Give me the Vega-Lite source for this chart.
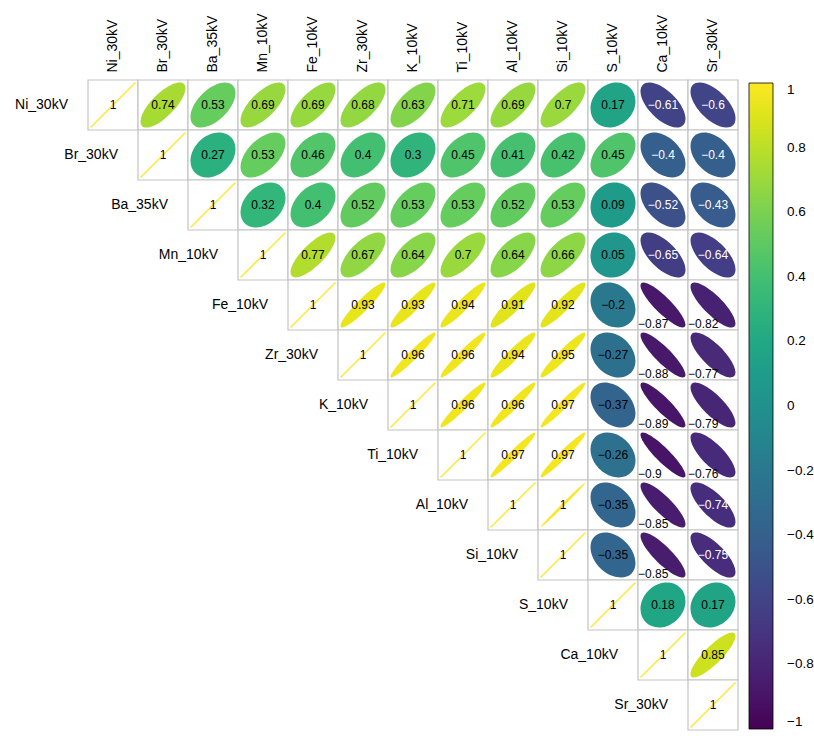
{
  "$schema": "https://vega.github.io/schema/vega-lite/v6.json",
  "width": 650,
  "height": 650,
  "autosize": "none",
  "padding": {"left": 88, "top": 80, "right": 76, "bottom": 6},
  "background": "white",
  "config": {"view": {"stroke": null}, "font": "Liberation Sans"},
  "data": {"values": [
    {"a": "Ni_30kV", "b": "Ni_30kV", "r": 1},
    {"a": "Br_30kV", "b": "Ni_30kV", "r": 0.74},
    {"a": "Ba_35kV", "b": "Ni_30kV", "r": 0.53},
    {"a": "Mn_10kV", "b": "Ni_30kV", "r": 0.69},
    {"a": "Fe_10kV", "b": "Ni_30kV", "r": 0.69},
    {"a": "Zr_30kV", "b": "Ni_30kV", "r": 0.68},
    {"a": "K_10kV", "b": "Ni_30kV", "r": 0.63},
    {"a": "Ti_10kV", "b": "Ni_30kV", "r": 0.71},
    {"a": "Al_10kV", "b": "Ni_30kV", "r": 0.69},
    {"a": "Si_10kV", "b": "Ni_30kV", "r": 0.7},
    {"a": "S_10kV", "b": "Ni_30kV", "r": 0.17},
    {"a": "Ca_10kV", "b": "Ni_30kV", "r": -0.61},
    {"a": "Sr_30kV", "b": "Ni_30kV", "r": -0.6},
    {"a": "Br_30kV", "b": "Br_30kV", "r": 1},
    {"a": "Ba_35kV", "b": "Br_30kV", "r": 0.27},
    {"a": "Mn_10kV", "b": "Br_30kV", "r": 0.53},
    {"a": "Fe_10kV", "b": "Br_30kV", "r": 0.46},
    {"a": "Zr_30kV", "b": "Br_30kV", "r": 0.4},
    {"a": "K_10kV", "b": "Br_30kV", "r": 0.3},
    {"a": "Ti_10kV", "b": "Br_30kV", "r": 0.45},
    {"a": "Al_10kV", "b": "Br_30kV", "r": 0.41},
    {"a": "Si_10kV", "b": "Br_30kV", "r": 0.42},
    {"a": "S_10kV", "b": "Br_30kV", "r": 0.45},
    {"a": "Ca_10kV", "b": "Br_30kV", "r": -0.4},
    {"a": "Sr_30kV", "b": "Br_30kV", "r": -0.4},
    {"a": "Ba_35kV", "b": "Ba_35kV", "r": 1},
    {"a": "Mn_10kV", "b": "Ba_35kV", "r": 0.32},
    {"a": "Fe_10kV", "b": "Ba_35kV", "r": 0.4},
    {"a": "Zr_30kV", "b": "Ba_35kV", "r": 0.52},
    {"a": "K_10kV", "b": "Ba_35kV", "r": 0.53},
    {"a": "Ti_10kV", "b": "Ba_35kV", "r": 0.53},
    {"a": "Al_10kV", "b": "Ba_35kV", "r": 0.52},
    {"a": "Si_10kV", "b": "Ba_35kV", "r": 0.53},
    {"a": "S_10kV", "b": "Ba_35kV", "r": 0.09},
    {"a": "Ca_10kV", "b": "Ba_35kV", "r": -0.52},
    {"a": "Sr_30kV", "b": "Ba_35kV", "r": -0.43},
    {"a": "Mn_10kV", "b": "Mn_10kV", "r": 1},
    {"a": "Fe_10kV", "b": "Mn_10kV", "r": 0.77},
    {"a": "Zr_30kV", "b": "Mn_10kV", "r": 0.67},
    {"a": "K_10kV", "b": "Mn_10kV", "r": 0.64},
    {"a": "Ti_10kV", "b": "Mn_10kV", "r": 0.7},
    {"a": "Al_10kV", "b": "Mn_10kV", "r": 0.64},
    {"a": "Si_10kV", "b": "Mn_10kV", "r": 0.66},
    {"a": "S_10kV", "b": "Mn_10kV", "r": 0.05},
    {"a": "Ca_10kV", "b": "Mn_10kV", "r": -0.65},
    {"a": "Sr_30kV", "b": "Mn_10kV", "r": -0.64},
    {"a": "Fe_10kV", "b": "Fe_10kV", "r": 1},
    {"a": "Zr_30kV", "b": "Fe_10kV", "r": 0.93},
    {"a": "K_10kV", "b": "Fe_10kV", "r": 0.93},
    {"a": "Ti_10kV", "b": "Fe_10kV", "r": 0.94},
    {"a": "Al_10kV", "b": "Fe_10kV", "r": 0.91},
    {"a": "Si_10kV", "b": "Fe_10kV", "r": 0.92},
    {"a": "S_10kV", "b": "Fe_10kV", "r": -0.2},
    {"a": "Ca_10kV", "b": "Fe_10kV", "r": -0.87},
    {"a": "Sr_30kV", "b": "Fe_10kV", "r": -0.82},
    {"a": "Zr_30kV", "b": "Zr_30kV", "r": 1},
    {"a": "K_10kV", "b": "Zr_30kV", "r": 0.96},
    {"a": "Ti_10kV", "b": "Zr_30kV", "r": 0.96},
    {"a": "Al_10kV", "b": "Zr_30kV", "r": 0.94},
    {"a": "Si_10kV", "b": "Zr_30kV", "r": 0.95},
    {"a": "S_10kV", "b": "Zr_30kV", "r": -0.27},
    {"a": "Ca_10kV", "b": "Zr_30kV", "r": -0.88},
    {"a": "Sr_30kV", "b": "Zr_30kV", "r": -0.77},
    {"a": "K_10kV", "b": "K_10kV", "r": 1},
    {"a": "Ti_10kV", "b": "K_10kV", "r": 0.96},
    {"a": "Al_10kV", "b": "K_10kV", "r": 0.96},
    {"a": "Si_10kV", "b": "K_10kV", "r": 0.97},
    {"a": "S_10kV", "b": "K_10kV", "r": -0.37},
    {"a": "Ca_10kV", "b": "K_10kV", "r": -0.89},
    {"a": "Sr_30kV", "b": "K_10kV", "r": -0.79},
    {"a": "Ti_10kV", "b": "Ti_10kV", "r": 1},
    {"a": "Al_10kV", "b": "Ti_10kV", "r": 0.97},
    {"a": "Si_10kV", "b": "Ti_10kV", "r": 0.97},
    {"a": "S_10kV", "b": "Ti_10kV", "r": -0.26},
    {"a": "Ca_10kV", "b": "Ti_10kV", "r": -0.9},
    {"a": "Sr_30kV", "b": "Ti_10kV", "r": -0.76},
    {"a": "Al_10kV", "b": "Al_10kV", "r": 1},
    {"a": "Si_10kV", "b": "Al_10kV", "r": 0.996},
    {"a": "S_10kV", "b": "Al_10kV", "r": -0.35},
    {"a": "Ca_10kV", "b": "Al_10kV", "r": -0.85},
    {"a": "Sr_30kV", "b": "Al_10kV", "r": -0.74},
    {"a": "Si_10kV", "b": "Si_10kV", "r": 1},
    {"a": "S_10kV", "b": "Si_10kV", "r": -0.35},
    {"a": "Ca_10kV", "b": "Si_10kV", "r": -0.85},
    {"a": "Sr_30kV", "b": "Si_10kV", "r": -0.75},
    {"a": "S_10kV", "b": "S_10kV", "r": 1},
    {"a": "Ca_10kV", "b": "S_10kV", "r": 0.18},
    {"a": "Sr_30kV", "b": "S_10kV", "r": 0.17},
    {"a": "Ca_10kV", "b": "Ca_10kV", "r": 1},
    {"a": "Sr_30kV", "b": "Ca_10kV", "r": 0.85},
    {"a": "Sr_30kV", "b": "Sr_30kV", "r": 1}
  ]},
  "encoding": {
    "x": {
      "field": "a", "type": "nominal",
      "sort": ["Ni_30kV", "Br_30kV", "Ba_35kV", "Mn_10kV", "Fe_10kV", "Zr_30kV", "K_10kV", "Ti_10kV", "Al_10kV", "Si_10kV", "S_10kV", "Ca_10kV", "Sr_30kV"],
      "scale": {"type": "band", "paddingInner": 0, "paddingOuter": 0},
      "axis": {"orient": "top", "labelAngle": -90, "labelAlign": "left", "labelBaseline": "middle", "ticks": false, "domain": false, "grid": false, "labelPadding": 8, "title": null, "labelFontSize": 14, "labelFont": "Liberation Sans", "labelColor": "black"}
    },
    "y": {
      "field": "b", "type": "nominal",
      "sort": ["Ni_30kV", "Br_30kV", "Ba_35kV", "Mn_10kV", "Fe_10kV", "Zr_30kV", "K_10kV", "Ti_10kV", "Al_10kV", "Si_10kV", "S_10kV", "Ca_10kV", "Sr_30kV"],
      "scale": {"type": "band", "paddingInner": 0, "paddingOuter": 0},
      "axis": null
    }
  },
  "layer": [
    {"mark": {"type": "rect", "fill": "white", "stroke": "#c4c4c4", "strokeWidth": 1.2}},
    {
      "transform": [{"filter": "datum.a == datum.b"}],
      "mark": {"type": "point", "shape": "M-1 1L1 -1", "filled": false, "color": "#fde725", "stroke": "#fde725", "strokeWidth": 1.3, "size": 2025, "opacity": 1}
    },
    {
      "transform": [{"filter": "datum.a != datum.b"}],
      "mark": {"type": "point", "filled": true, "size": 2025, "opacity": 1},
      "encoding": {
        "color": {
          "field": "r", "type": "quantitative",
          "scale": {"type": "linear", "domain": [-1, 1], "scheme": "viridis"},
          "legend": {"title": null, "orient": "right", "offset": 8, "padding": 3, "direction": "vertical", "gradientLength": 646, "gradientThickness": 24, "values": [-1, -0.8, -0.6, -0.4, -0.2, 0, 0.2, 0.4, 0.6, 0.8, 1], "format": ".1~f", "labelFontSize": 13.5, "labelFont": "Liberation Sans", "labelColor": "black", "labelOffset": 14, "labelOverlap": false, "labelBaseline": "middle", "gradientStrokeColor": "black", "gradientStrokeWidth": 0.8}
        },
        "shape": {
          "field": "r", "type": "ordinal", "legend": null,
          "scale": {
            "type": "ordinal",
            "domain": [0.05, 0.09, 0.17, 0.18, 0.27, 0.3, 0.32, 0.4, 0.41, 0.42, 0.45, 0.46, 0.52, 0.53, 0.63, 0.64, 0.66, 0.67, 0.68, 0.69, 0.7, 0.71, 0.74, 0.77, 0.85, 0.91, 0.92, 0.93, 0.94, 0.95, 0.96, 0.97, 0.996, -0.2, -0.26, -0.27, -0.35, -0.37, -0.4, -0.43, -0.52, -0.6, -0.61, -0.64, -0.65, -0.74, -0.75, -0.76, -0.77, -0.79, -0.82, -0.85, -0.87, -0.88, -0.89, -0.9],
            "range": [
              "M1 -0.05A1.024 0.974 -45 0 1 -1 0.05A1.024 0.974 -45 0 1 1 -0.05Z",
              "M1 -0.09A1.044 0.953 -45 0 1 -1 0.09A1.044 0.953 -45 0 1 1 -0.09Z",
              "M1 -0.17A1.081 0.911 -45 0 1 -1 0.17A1.081 0.911 -45 0 1 1 -0.17Z",
              "M1 -0.18A1.086 0.905 -45 0 1 -1 0.18A1.086 0.905 -45 0 1 1 -0.18Z",
              "M1 -0.27A1.126 0.854 -45 0 1 -1 0.27A1.126 0.854 -45 0 1 1 -0.27Z",
              "M1 -0.3A1.14 0.836 -45 0 1 -1 0.3A1.14 0.836 -45 0 1 1 -0.3Z",
              "M1 -0.32A1.148 0.824 -45 0 1 -1 0.32A1.148 0.824 -45 0 1 1 -0.32Z",
              "M1 -0.4A1.183 0.774 -45 0 1 -1 0.4A1.183 0.774 -45 0 1 1 -0.4Z",
              "M1 -0.41A1.187 0.768 -45 0 1 -1 0.41A1.187 0.768 -45 0 1 1 -0.41Z",
              "M1 -0.42A1.191 0.761 -45 0 1 -1 0.42A1.191 0.761 -45 0 1 1 -0.42Z",
              "M1 -0.45A1.204 0.741 -45 0 1 -1 0.45A1.204 0.741 -45 0 1 1 -0.45Z",
              "M1 -0.46A1.208 0.734 -45 0 1 -1 0.46A1.208 0.734 -45 0 1 1 -0.46Z",
              "M1 -0.52A1.232 0.692 -45 0 1 -1 0.52A1.232 0.692 -45 0 1 1 -0.52Z",
              "M1 -0.53A1.236 0.685 -45 0 1 -1 0.53A1.236 0.685 -45 0 1 1 -0.53Z",
              "M1 -0.63A1.276 0.608 -45 0 1 -1 0.63A1.276 0.608 -45 0 1 1 -0.63Z",
              "M1 -0.64A1.28 0.599 -45 0 1 -1 0.64A1.28 0.599 -45 0 1 1 -0.64Z",
              "M1 -0.66A1.288 0.583 -45 0 1 -1 0.66A1.288 0.583 -45 0 1 1 -0.66Z",
              "M1 -0.67A1.292 0.574 -45 0 1 -1 0.67A1.292 0.574 -45 0 1 1 -0.67Z",
              "M1 -0.68A1.296 0.565 -45 0 1 -1 0.68A1.296 0.565 -45 0 1 1 -0.68Z",
              "M1 -0.69A1.299 0.556 -45 0 1 -1 0.69A1.299 0.556 -45 0 1 1 -0.69Z",
              "M1 -0.7A1.303 0.547 -45 0 1 -1 0.7A1.303 0.547 -45 0 1 1 -0.7Z",
              "M1 -0.71A1.307 0.538 -45 0 1 -1 0.71A1.307 0.538 -45 0 1 1 -0.71Z",
              "M1 -0.74A1.319 0.509 -45 0 1 -1 0.74A1.319 0.509 -45 0 1 1 -0.74Z",
              "M1 -0.77A1.33 0.479 -45 0 1 -1 0.77A1.33 0.479 -45 0 1 1 -0.77Z",
              "M1 -0.85A1.36 0.387 -45 0 1 -1 0.85A1.36 0.387 -45 0 1 1 -0.85Z",
              "M1 -0.91A1.382 0.299 -45 0 1 -1 0.91A1.382 0.299 -45 0 1 1 -0.91Z",
              "M1 -0.92A1.385 0.282 -45 0 1 -1 0.92A1.385 0.282 -45 0 1 1 -0.92Z",
              "M1 -0.93A1.389 0.264 -45 0 1 -1 0.93A1.389 0.264 -45 0 1 1 -0.93Z",
              "M1 -0.94A1.392 0.244 -45 0 1 -1 0.94A1.392 0.244 -45 0 1 1 -0.94Z",
              "M1 -0.95A1.396 0.223 -45 0 1 -1 0.95A1.396 0.223 -45 0 1 1 -0.95Z",
              "M1 -0.96A1.399 0.199 -45 0 1 -1 0.96A1.399 0.199 -45 0 1 1 -0.96Z",
              "M1 -0.97A1.403 0.173 -45 0 1 -1 0.97A1.403 0.173 -45 0 1 1 -0.97Z",
              "M1 -0.996A1.412 0.063 -45 0 1 -1 0.996A1.412 0.063 -45 0 1 1 -0.996Z",
              "M1 0.2A0.894 1.095 -45 0 1 -1 -0.2A0.894 1.095 -45 0 1 1 0.2Z",
              "M1 0.26A0.86 1.122 -45 0 1 -1 -0.26A0.86 1.122 -45 0 1 1 0.26Z",
              "M1 0.27A0.854 1.126 -45 0 1 -1 -0.27A0.854 1.126 -45 0 1 1 0.27Z",
              "M1 0.35A0.806 1.161 -45 0 1 -1 -0.35A0.806 1.161 -45 0 1 1 0.35Z",
              "M1 0.37A0.793 1.17 -45 0 1 -1 -0.37A0.793 1.17 -45 0 1 1 0.37Z",
              "M1 0.4A0.774 1.183 -45 0 1 -1 -0.4A0.774 1.183 -45 0 1 1 0.4Z",
              "M1 0.43A0.754 1.195 -45 0 1 -1 -0.43A0.754 1.195 -45 0 1 1 0.43Z",
              "M1 0.52A0.692 1.232 -45 0 1 -1 -0.52A0.692 1.232 -45 0 1 1 0.52Z",
              "M1 0.6A0.632 1.264 -45 0 1 -1 -0.6A0.632 1.264 -45 0 1 1 0.6Z",
              "M1 0.61A0.624 1.268 -45 0 1 -1 -0.61A0.624 1.268 -45 0 1 1 0.61Z",
              "M1 0.64A0.599 1.28 -45 0 1 -1 -0.64A0.599 1.28 -45 0 1 1 0.64Z",
              "M1 0.65A0.591 1.284 -45 0 1 -1 -0.65A0.591 1.284 -45 0 1 1 0.65Z",
              "M1 0.74A0.509 1.319 -45 0 1 -1 -0.74A0.509 1.319 -45 0 1 1 0.74Z",
              "M1 0.75A0.499 1.322 -45 0 1 -1 -0.75A0.499 1.322 -45 0 1 1 0.75Z",
              "M1 0.76A0.489 1.326 -45 0 1 -1 -0.76A0.489 1.326 -45 0 1 1 0.76Z",
              "M1 0.77A0.479 1.33 -45 0 1 -1 -0.77A0.479 1.33 -45 0 1 1 0.77Z",
              "M1 0.79A0.458 1.337 -45 0 1 -1 -0.79A0.458 1.337 -45 0 1 1 0.79Z",
              "M1 0.82A0.424 1.349 -45 0 1 -1 -0.82A0.424 1.349 -45 0 1 1 0.82Z",
              "M1 0.85A0.387 1.36 -45 0 1 -1 -0.85A0.387 1.36 -45 0 1 1 0.85Z",
              "M1 0.87A0.36 1.367 -45 0 1 -1 -0.87A0.36 1.367 -45 0 1 1 0.87Z",
              "M1 0.88A0.346 1.371 -45 0 1 -1 -0.88A0.346 1.371 -45 0 1 1 0.88Z",
              "M1 0.89A0.331 1.374 -45 0 1 -1 -0.89A0.331 1.374 -45 0 1 1 0.89Z",
              "M1 0.9A0.316 1.378 -45 0 1 -1 -0.9A0.316 1.378 -45 0 1 1 0.9Z"
            ]
          }
        }
      }
    },
    {
      "transform": [{"filter": "datum.r > -0.755"}],
      "mark": {"type": "text", "fontSize": 12, "font": "Liberation Sans", "baseline": "middle", "align": "center"},
      "encoding": {
        "text": {"field": "r", "type": "quantitative", "format": ".2~f"},
        "color": {"condition": {"test": "datum.r < -0.39", "value": "white"}, "value": "black"}
      }
    },
    {
      "transform": [{"filter": "datum.r <= -0.755"}],
      "mark": {"type": "text", "fontSize": 12, "font": "Liberation Sans", "baseline": "middle", "align": "left", "dx": -25, "dy": 19, "color": "black"},
      "encoding": {
        "text": {"field": "r", "type": "quantitative", "format": ".2~f"}
      }
    },
    {
      "transform": [{"filter": "datum.a == datum.b"}],
      "mark": {"type": "text", "fontSize": 14, "font": "Liberation Sans", "baseline": "middle", "align": "right", "dx": -45, "color": "black"},
      "encoding": {
        "text": {"field": "a", "type": "nominal"}
      }
    }
  ]
}
